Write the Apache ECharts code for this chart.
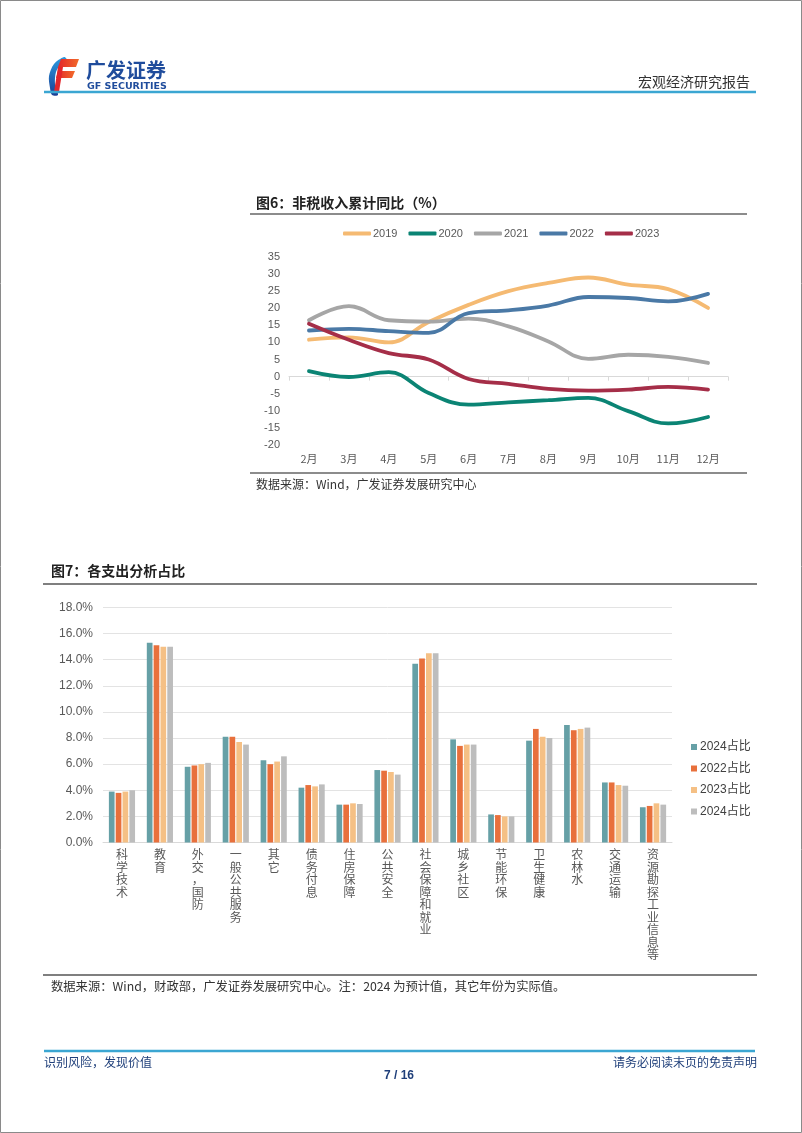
<!DOCTYPE html>
<html>
<head>
<meta charset="utf-8">
<script src="https://cdn.jsdelivr.net/npm/echarts@6/dist/echarts.min.js"></script>
<style>
html,body{margin:0;padding:0;background:#fff;}
#page{width:802px;height:1133px;}
</style>
</head>
<body>
<div id="page"></div>
<script>
// ---------- Figure 6 data ----------
const months = ['2月','3月','4月','5月','6月','7月','8月','9月','10月','11月','12月'];
const s2019 = [10.8, 11.5, 10.0, 16.0, 21.0, 25.0, 27.4, 29.0, 26.9, 25.6, 20.1];
const s2020 = [1.6, -0.1, 1.3, -4.8, -8.2, -7.5, -6.9, -6.2, -10.1, -13.7, -11.8];
const s2021 = [16.5, 20.6, 16.5, 16.1, 17.0, 14.7, 10.3, 5.2, 6.4, 5.8, 4.0];
const s2022 = [13.5, 14.0, 13.3, 12.8, 18.6, 19.4, 20.8, 23.3, 23.0, 22.0, 24.2];
const s2023 = [15.5, 10.8, 6.9, 5.0, -0.7, -2.1, -3.6, -4.1, -3.8, -3.0, -3.8];
const lineNames = ['2019','2020','2021','2022','2023'];
const fig6Ticks = [-20,-15,-10,-5,0,5,10,15,20,25,30,35];

// ---------- Figure 7 data ----------
const categories = ['科学技术','教育','外交，国防','一般公共服务','其它','债务付息','住房保障','公共安全','社会保障和就业','城乡社区','节能环保','卫生健康','农林水','交通运输','资源勘探工业信息等'];
const share2024a = [3.9, 15.3, 5.8, 8.1, 6.3, 4.2, 2.9, 5.55, 13.7, 7.9, 2.15, 7.8, 9.0, 4.6, 2.7];
const share2022  = [3.8, 15.1, 5.9, 8.1, 6.0, 4.4, 2.9, 5.5, 14.1, 7.4, 2.1, 8.7, 8.6, 4.6, 2.8];
const share2023  = [3.9, 15.0, 6.0, 7.7, 6.2, 4.3, 3.0, 5.4, 14.5, 7.5, 2.0, 8.1, 8.7, 4.4, 3.0];
const share2024b = [4.0, 15.0, 6.1, 7.5, 6.6, 4.45, 2.95, 5.2, 14.5, 7.5, 2.0, 8.0, 8.8, 4.35, 2.9];
const barNames = ['2024占比','2022占比','2023占比','2024占比\u200b'];
const fig7Ticks = ['0.0%','2.0%','4.0%','6.0%','8.0%','10.0%','12.0%','14.0%','16.0%','18.0%'];

const FONT = '"Liberation Sans", Arial, "Noto Sans CJK SC", sans-serif';
const CJK = '"Noto Sans CJK SC", "Liberation Sans", sans-serif';
const lineColors = ['#F5BA72', '#0B8474', '#A6A6A6', '#4A79A6', '#A52E48'];
const barColors = ['#66A0A6', '#E8703C', '#F5C085', '#BDBDBD'];

const chart = echarts.init(document.getElementById('page'), null, {renderer: 'canvas', width: 802, height: 1133});

function hline(x1, x2, y, color, w) {
  return {type: 'line', shape: {x1: x1, y1: y, x2: x2, y2: y}, style: {stroke: color, lineWidth: w}, silent: true};
}
function txt(x, y, text, opts) {
  return {type: 'text', x: x, y: y, style: Object.assign({text: text, fill: '#333', font: '12px ' + CJK, verticalAlign: 'middle'}, opts || {}), silent: true};
}
const redGrad = {type: 'linear', x: 0, y: 0, x2: 1, y2: 0, colorStops: [{offset: 0, color: '#E3262B'}, {offset: 1, color: '#F26B2A'}]};
const blueGrad = {type: 'linear', x: 0, y: 0, x2: 0, y2: 1, colorStops: [{offset: 0, color: '#2A9BE0'}, {offset: 1, color: '#1B3F94'}]};

const graphics = [
  // page border
  {type: 'rect', shape: {x: 0.5, y: 0.5, width: 801, height: 1132}, style: {fill: 'none', stroke: '#8a8a8a', lineWidth: 1}, silent: true},
  // logo icon
  {type: 'polygon', shape: {points: [[64, 57], [54, 64], [49, 76], [50, 88], [52, 95], [58, 95], [55, 84], [56, 72], [61, 64], [67, 60]], smooth: 0.3},
   style: {fill: blueGrad}, silent: true},
  {type: 'polygon', shape: {points: [[61, 59], [79, 59], [76, 67], [58, 67]]}, style: {fill: redGrad}, silent: true},
  {type: 'polygon', shape: {points: [[58, 71], [75, 71], [72, 78], [56, 78]]}, style: {fill: redGrad}, silent: true},
  {type: 'polygon', shape: {points: [[58, 67], [63, 67], [59, 92], [54, 92]]}, style: {fill: '#E3262B'}, silent: true},
  txt(86, 70, '广发证券', {font: 'bold 20px ' + CJK, fill: '#1F4C9C'}),
  txt(87, 86.5, 'GF SECURITIES', {font: 'bold 9.5px "DejaVu Sans", ' + FONT, fill: '#1F4C9C'}),
  txt(750, 82, '宏观经济研究报告', {font: '14px ' + CJK, fill: '#333', align: 'right'}),
  hline(44, 756, 92, '#3BA6D2', 2.5),
  // figure 6 frame
  txt(256, 203, '图6：非税收入累计同比（%）', {font: 'bold 14px ' + CJK, fill: '#222'}),
  hline(250, 747, 214, '#666', 1.5),
  hline(250, 747, 473, '#666', 1.5),
  txt(256, 484, '数据来源：Wind，广发证券发展研究中心', {font: '12px ' + CJK, fill: '#333'}),
  // figure 7 frame
  txt(51, 571, '图7：各支出分析占比', {font: 'bold 14px ' + CJK, fill: '#222'}),
  hline(43, 757, 584, '#555', 1.5),
  hline(43, 757, 975, '#555', 1.5),
  txt(51, 986, '数据来源：Wind，财政部，广发证券发展研究中心。注：2024 为预计值，其它年份为实际值。', {font: '12.3px ' + CJK, fill: '#333'}),
  // footer
  hline(44, 755, 1051, '#3BA6D2', 2.5),
  txt(44, 1062, '识别风险，发现价值', {font: '12px ' + CJK, fill: '#1F3F7A'}),
  txt(757, 1062, '请务必阅读末页的免责声明', {font: '12px ' + CJK, fill: '#1F3F7A', align: 'right'}),
  txt(399, 1076, '7 / 16', {font: 'bold 12px ' + FONT, fill: '#1F3F7A', align: 'center'})
];

const lineData = [s2019, s2020, s2021, s2022, s2023];
const barData = [share2024a, share2022, share2023, share2024b];

const series = [];
lineNames.forEach(function (n, i) {
  series.push({
    name: n, type: 'line', xAxisIndex: 0, yAxisIndex: 0, data: lineData[i],
    smooth: 0.4, symbol: 'none', z: 3 + i,
    lineStyle: {color: lineColors[i], width: 3.8, cap: 'round'},
    itemStyle: {color: lineColors[i]}
  });
});
barNames.forEach(function (n, i) {
  series.push({
    name: n, type: 'bar', xAxisIndex: 2, yAxisIndex: 1, data: barData[i],
    barGap: '20%', barCategoryGap: '31%',
    itemStyle: {color: barColors[i]}
  });
});

const option = {
  animation: false,
  textStyle: {fontFamily: FONT},
  graphic: {elements: graphics},
  legend: [
    {
      data: lineNames, left: 343, top: 228, icon: 'roundRect',
      itemWidth: 28, itemHeight: 4, itemGap: 11, padding: 0,
      textStyle: {fontSize: 11, color: '#595959', fontFamily: FONT, padding: [0, 0, 0, -3]}
    },
    {
      data: barNames, orient: 'vertical', left: 691, top: 740, icon: 'rect',
      itemWidth: 6, itemHeight: 6, itemGap: 7.5, padding: 0,
      formatter: function (n) { return n.replace('\u200b', ''); },
      textStyle: {fontSize: 12, lineHeight: 14, color: '#404040', fontFamily: FONT, padding: [0, 0, 0, -2]}
    }
  ],
  grid: [
    {left: 289, right: 74, top: 257, bottom: 688, containLabel: false},
    {left: 103, right: 130, top: 607.5, bottom: 290.5, containLabel: false}
  ],
  xAxis: [
    {
      gridIndex: 0, type: 'category', data: months, boundaryGap: true,
      axisLine: {show: true, onZero: true, lineStyle: {color: '#D9D9D9', width: 1}},
      axisTick: {show: true, length: 4, lineStyle: {color: '#D9D9D9'}},
      axisLabel: {show: false}, splitLine: {show: false}
    },
    {
      gridIndex: 0, type: 'category', data: months, position: 'bottom', boundaryGap: true,
      axisLine: {show: false, onZero: false}, axisTick: {show: false},
      axisLabel: {show: true, fontSize: 11, color: '#595959', margin: 8, interval: 0, fontFamily: CJK}
    },
    {
      gridIndex: 1, type: 'category', data: categories, boundaryGap: true,
      axisLine: {show: true, lineStyle: {color: '#D9D9D9', width: 1}},
      axisTick: {show: false},
      axisLabel: {
        show: true, interval: 0, margin: 6, fontSize: 12, lineHeight: 12.5, color: '#595959',
        fontFamily: CJK, verticalAlign: 'top',
        formatter: function (v) { return v.split('').join('\n'); }
      }
    }
  ],
  yAxis: [
    {
      gridIndex: 0, type: 'value', min: -20, max: 35, interval: 5,
      axisLine: {show: false}, axisTick: {show: false}, splitLine: {show: false},
      axisLabel: {fontSize: 11, color: '#595959', margin: 9,
        formatter: function (v) { return fig6Ticks.indexOf(v) >= 0 ? String(v) : ''; }}
    },
    {
      gridIndex: 1, type: 'value', min: 0, max: 18, interval: 2,
      axisLine: {show: false}, axisTick: {show: false},
      splitLine: {show: true, lineStyle: {color: '#E3E3E3', width: 1}},
      axisLabel: {fontSize: 12, color: '#595959', margin: 10,
        formatter: function (v) { return fig7Ticks[Math.round(v / 2)] || ''; }}
    }
  ],
  series: series
};
chart.setOption(option);
</script>
</body>
</html>
